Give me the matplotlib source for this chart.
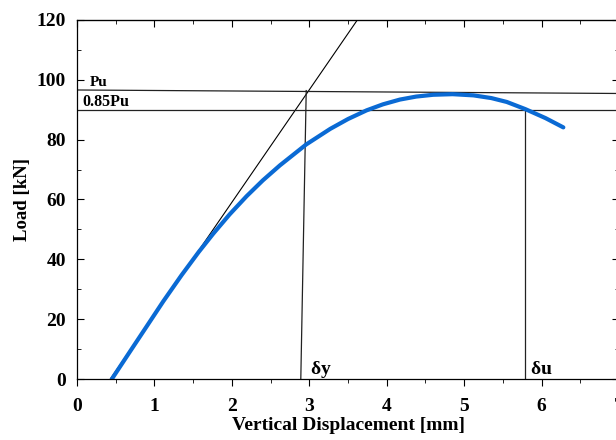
import matplotlib
matplotlib.use("Agg")
import matplotlib.pyplot as plt
from matplotlib.ticker import MultipleLocator

plt.rcParams['font.family'] = 'Liberation Serif'
plt.rcParams['font.weight'] = 'bold'
plt.rcParams['mathtext.fontset'] = 'custom'
plt.rcParams['mathtext.rm'] = 'Liberation Serif'
plt.rcParams['mathtext.bf'] = 'Liberation Serif:bold'

# load-displacement curve
disp = [0.45, 0.7, 0.9, 1.115, 1.35, 1.57, 1.76, 1.97, 2.19, 2.4, 2.62, 2.96,
        3.27, 3.5, 3.74, 3.95, 4.17, 4.38, 4.6, 4.85, 5.12, 5.35, 5.55, 5.79,
        6.05, 6.28]
load = [0.0, 9.8, 17.6, 26.0, 34.7, 42.4, 48.6, 55.0, 61.1, 66.4, 71.4, 78.4,
        83.6, 86.9, 89.8, 91.8, 93.4, 94.4, 95.0, 95.2, 94.8, 93.9, 92.6, 90.2,
        87.2, 84.1]

# construction lines
tangent_x = [0.43, 3.62]
tangent_y = [0.0, 120.0]
pu_x = [0.0, 7.2]
pu_y = [96.6, 95.4]
pu85_y = 90.0
dy_x = [2.89, 2.96]
dy_y = [0.0, 96.4]
du_x = 5.78

fig = plt.figure(figsize=(6.16, 4.4), dpi=100)
ax = fig.add_axes([0.125, 0.1386, 0.88, 0.816])

lc = '#222222'
ax.plot(tangent_x, tangent_y, color='black', lw=0.8)
ax.plot(pu_x, pu_y, color=lc, lw=0.9)
ax.axhline(pu85_y, color=lc, lw=0.9)
ax.plot(dy_x, dy_y, color=lc, lw=0.9)
ax.plot([du_x, du_x], [0, pu85_y], color=lc, lw=0.9)
ax.plot(disp, load, color='#0a6ad4', lw=3, solid_capstyle='round',
        solid_joinstyle='round')

ax.text(0.17, 97.8, 'Pu', fontsize=11, fontweight='bold')
ax.text(0.07, 91.2, '0.85Pu', fontsize=11.5, fontweight='bold')
ax.text(3.01, 1.8, r'$\mathrm{\delta}\mathbf{y}$', fontsize=14)
ax.text(5.85, 1.8, r'$\mathrm{\delta}\mathbf{u}$', fontsize=14)

ax.set_xlim(0, 7)
ax.set_ylim(0, 120)
ax.xaxis.set_major_locator(MultipleLocator(1))
ax.xaxis.set_minor_locator(MultipleLocator(0.5))
ax.yaxis.set_major_locator(MultipleLocator(20))
ax.yaxis.set_minor_locator(MultipleLocator(10))
ax.tick_params(axis='x', which='both', direction='out', labelsize=14, pad=9)
ax.tick_params(axis='x', which='major', length=5)
ax.tick_params(axis='x', which='minor', length=3)
ax.tick_params(axis='y', which='both', direction='in', right=True, labelsize=14, pad=8)
ax.tick_params(axis='y', which='major', length=5)
ax.tick_params(axis='y', which='minor', length=3)

# top ticks point inward
top = ax.secondary_xaxis('top')
top.xaxis.set_major_locator(MultipleLocator(1))
top.xaxis.set_minor_locator(MultipleLocator(0.5))
top.tick_params(which='both', direction='in', labeltop=False)
top.tick_params(which='major', length=5)
top.tick_params(which='minor', length=3)

for s in ax.spines.values():
    s.set_linewidth(0.9)

ax.set_xlabel('Vertical Displacement [mm]', fontsize=14, fontweight='bold', labelpad=1)
ax.set_ylabel('Load [kN]', fontsize=13.5, fontweight='bold', labelpad=4)

fig.savefig('out.png', dpi=100)
